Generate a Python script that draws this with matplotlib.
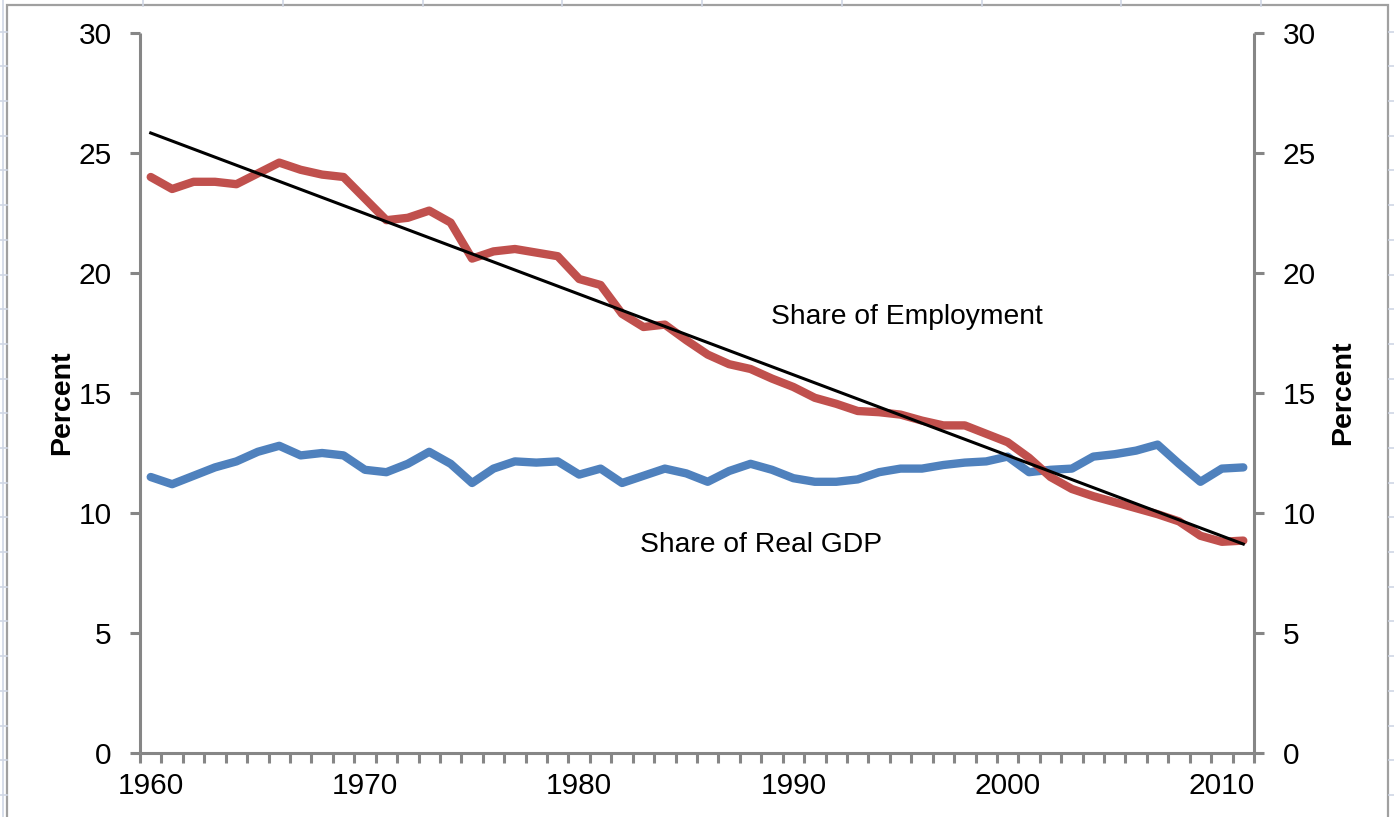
import numpy as np
import matplotlib
matplotlib.use("Agg")
import matplotlib.pyplot as plt
from matplotlib.lines import Line2D
from matplotlib.patches import Rectangle

plt.rcParams['font.family'] = ['Liberation Sans', 'DejaVu Sans']

years = np.arange(1960, 2012)

# share of employment (percent)
employment = [24.0, 23.5, 23.8, 23.8, 23.7, 24.15, 24.6, 24.3, 24.1, 24.0,
              23.1, 22.2, 22.3, 22.6, 22.1, 20.6, 20.9, 21.0, 20.85, 20.7,
              19.75, 19.5, 18.3, 17.75, 17.85, 17.2, 16.6, 16.2, 16.0, 15.6,
              15.25, 14.8, 14.55, 14.25, 14.2, 14.1, 13.85, 13.65, 13.65, 13.3,
              12.95, 12.3, 11.5, 11.0, 10.7, 10.45, 10.2, 9.95, 9.65, 9.05,
              8.8, 8.85]

# share of real GDP (percent)
real_gdp = [11.5, 11.2, 11.55, 11.9, 12.15, 12.55, 12.8, 12.4, 12.5, 12.4,
            11.8, 11.7, 12.05, 12.55, 12.05, 11.25, 11.85, 12.15, 12.1, 12.15,
            11.6, 11.85, 11.25, 11.55, 11.85, 11.65, 11.3, 11.75, 12.05, 11.8,
            11.45, 11.3, 11.3, 11.4, 11.7, 11.85, 11.85, 12.0, 12.1, 12.15,
            12.35, 11.7, 11.8, 11.85, 12.35, 12.45, 12.6, 12.85, 12.05, 11.3,
            11.85, 11.9]

y_ticks = [0, 5, 10, 15, 20, 25, 30]
x_labels = [1960, 1970, 1980, 1990, 2000, 2010]

W, H = 1394, 817
fig = plt.figure(figsize=(W / 100, H / 100), dpi=100)


def fx(px):
    return px / W


def fy(py):
    return 1 - py / H


# spreadsheet grid behind the chart
grid_col = '#d0d7e5'
for k in range(9):
    x = 143 + 139.75 * k
    fig.add_artist(Line2D([fx(x), fx(x)], [fy(0), fy(6)], color=grid_col, lw=1.2))
fig.add_artist(Line2D([fx(3), fx(3)], [0, 1], color=grid_col, lw=1.2))
for k in range(23):
    y = 31.7 + 34.69 * k
    fig.add_artist(Line2D([0, fx(7)], [fy(y), fy(y)], color=grid_col, lw=1.2))
    fig.add_artist(Line2D([fx(1389), 1], [fy(y), fy(y)], color=grid_col, lw=1.2))

# chart area frame
fig.add_artist(Rectangle((fx(7), -0.05), fx(1388) - fx(7), fy(5) + 0.05,
                         facecolor='white', edgecolor='#a0a0a0', lw=1.6,
                         transform=fig.transFigure, zorder=0))

ax = fig.add_axes([fx(140), fy(753), fx(1254) - fx(140), fy(33) - fy(753)])
ax.patch.set_alpha(0)

red = '#c0504d'
blue = '#4f81bd'
ax.plot(years, real_gdp, color=blue, lw=6, solid_joinstyle='round',
        solid_capstyle='round', zorder=3)
ax.plot(years, employment, color=red, lw=6, solid_joinstyle='round',
        solid_capstyle='round', zorder=3)
slope, icept = np.polyfit(years, employment, 1)
ax.plot(years, slope * years + icept, color='black', lw=2.2, zorder=4)

ax.set_xlim(1959.5, 2011.5)
ax.set_ylim(0, 30)

axis_col = '#868686'
ax.spines['top'].set_visible(False)
for side in ['left', 'right', 'bottom']:
    ax.spines[side].set_color(axis_col)
    ax.spines[side].set_linewidth(2.2)
    ax.spines[side].set_capstyle('butt')

ax.set_yticks(y_ticks)
ax.tick_params(axis='y', direction='out', length=7.5, width=2.2, color=axis_col,
               labelsize=21.5, pad=13, left=True, right=True,
               labelleft=True, labelright=True)

ax.set_xticks(np.arange(1959.5, 2012, 1.0))
ax.set_xticklabels([])
ax.tick_params(axis='x', which='major', direction='out', length=7.5, width=2.2,
               color=axis_col)
ax.set_xticks(x_labels, minor=True)
ax.set_xticklabels([str(v) for v in x_labels], minor=True)
ax.tick_params(axis='x', which='minor', length=0, labelsize=21.5, pad=14)

ax.text(1988.95, 18.17, 'Share of Employment', fontsize=20.3, ha='left',
        va='center')
ax.text(1982.83, 8.67, 'Share of Real GDP', fontsize=20.3, ha='left',
        va='center')

fig.text(fx(62), fy(403), 'Percent', rotation=90, fontsize=20.5,
         fontweight='bold', ha='center', va='center')
fig.text(fx(1343), fy(393), 'Percent', rotation=90, fontsize=20.5,
         fontweight='bold', ha='center', va='center')

fig.savefig('out.png', dpi=100)
